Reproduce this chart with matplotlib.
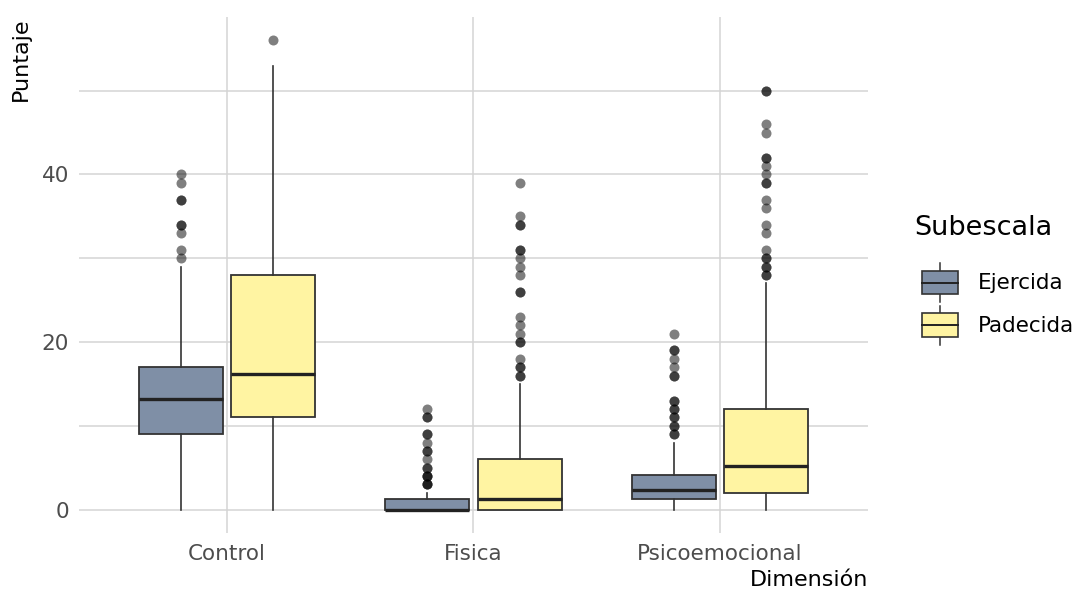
import matplotlib.pyplot as plt
from matplotlib.legend_handler import HandlerBase
from matplotlib.patches import Rectangle, Patch
from matplotlib.lines import Line2D

# Data
dimensions = ['Control', 'Fisica', 'Psicoemocional']
subscales = ['Ejercida', 'Padecida']

# (whisker low, q1, median, q3, whisker high) for each dimension
ejercida_stats = [(0, 9, 13.25, 17, 29), (0, 0, 0, 1.2, 2), (0, 1.2, 2.3, 4.1, 8)]
padecida_stats = [(0, 11, 16.2, 28, 53), (0, 0, 1.3, 6, 15), (0, 2, 5.2, 12, 27)]

# outliers (repeated values overlap and look darker)
ejercida_out = [
    [30, 31, 33, 34, 34, 37, 37, 39, 40],
    [3, 3, 3, 4, 4, 4, 5, 5, 6, 7, 7, 8, 9, 9, 11, 11, 12],
    [9, 9, 10, 10, 11, 11, 12, 12, 13, 13, 16, 16, 17, 18, 19, 19, 21],
]
padecida_out = [
    [56],
    [16, 16, 17, 17, 18, 20, 20, 21, 22, 23, 26, 26, 28, 29, 30, 31, 31, 34, 34, 35, 39],
    [28, 28, 29, 29, 30, 30, 31, 33, 34, 36, 37, 39, 39, 40, 41, 42, 42, 45, 46, 50, 50],
]

# cividis ends at alpha 0.5 over white
fill_colors = ['#7F8FA6', '#FFF4A2']
line_color = '#333333'

plt.rcParams['font.family'] = ['DejaVu Sans']

fig = plt.figure(figsize=(10.86, 5.95), dpi=100)
ax = fig.add_axes([0.0727, 0.1042, 0.7265, 0.8672])

offset = 0.1875
box_w = 0.34

for k, (stats, outs) in enumerate([(ejercida_stats, ejercida_out), (padecida_stats, padecida_out)]):
    bxp_stats = []
    for (lo, q1, med, q3, hi), fl in zip(stats, outs):
        bxp_stats.append({'whislo': lo, 'q1': q1, 'med': med, 'q3': q3, 'whishi': hi, 'fliers': fl})
    pos = [i + (2 * k - 1) * offset for i in range(len(dimensions))]
    ax.bxp(bxp_stats, positions=pos, widths=box_w, patch_artist=True, showcaps=False,
           boxprops=dict(facecolor=fill_colors[k], edgecolor=line_color, linewidth=1.3),
           whiskerprops=dict(color=line_color, linewidth=1.2),
           medianprops=dict(color='#222222', linewidth=2.4),
           flierprops=dict(marker='o', markerfacecolor='black', markeredgecolor='none',
                           markersize=7.2, alpha=0.5),
           zorder=3)

ax.set_xlim(-0.6, 2.6)
ax.set_ylim(-2.8, 58.8)
ax.set_xticks(range(len(dimensions)))
ax.set_xticklabels(dimensions)
ax.set_yticks([0, 20, 40])
ax.set_yticks([10, 30, 50], minor=True)
ax.grid(True, which='both', color='#d4d4d4', linewidth=1.1, zorder=0)
ax.set_axisbelow(True)
for s in ax.spines.values():
    s.set_visible(False)
ax.tick_params(which='both', length=0)
ax.tick_params(axis='y', labelsize=15.5, labelcolor='#4D4D4D', pad=7)
ax.tick_params(axis='x', labelsize=15.5, labelcolor='#4D4D4D', pad=8)

ax.set_xlabel('Dimensión', fontsize=16, loc='right', labelpad=4)
ax.set_ylabel('Puntaje', fontsize=16, loc='top', labelpad=8)


class BoxHandler(HandlerBase):
    def create_artists(self, legend, orig_handle, xdescent, ydescent, width, height, fontsize, trans):
        fc = orig_handle.get_facecolor()
        x0, y0 = -xdescent, -ydescent
        cx = x0 + width / 2
        b0, b1 = y0 + height * 0.2, y0 + height * 0.8
        rect = Rectangle((x0, b0), width, b1 - b0, facecolor=fc, edgecolor=line_color,
                         linewidth=1.2, transform=trans)
        med = Line2D([x0, x0 + width], [(b0 + b1) / 2] * 2, color='#222222', linewidth=1.4, transform=trans)
        w1 = Line2D([cx, cx], [y0, b0], color=line_color, linewidth=1.1, transform=trans)
        w2 = Line2D([cx, cx], [b1, y0 + height], color=line_color, linewidth=1.1, transform=trans)
        return [w1, w2, rect, med]


# legend title drawn on its own so the gap to the keys matches
fig.text(0.842, 0.617, 'Subescala', fontsize=19.5, ha='left', va='center')

handles = [Patch(facecolor=c) for c in fill_colors]
leg = fig.legend(handles, subscales, handler_map={Patch: BoxHandler()},
                 loc='upper left', bbox_to_anchor=(0.831, 0.591), frameon=False,
                 fontsize=15.5, handlelength=1.7, handleheight=2.45, labelspacing=0.15,
                 handletextpad=0.9)

fig.savefig('out.png', dpi=100)
